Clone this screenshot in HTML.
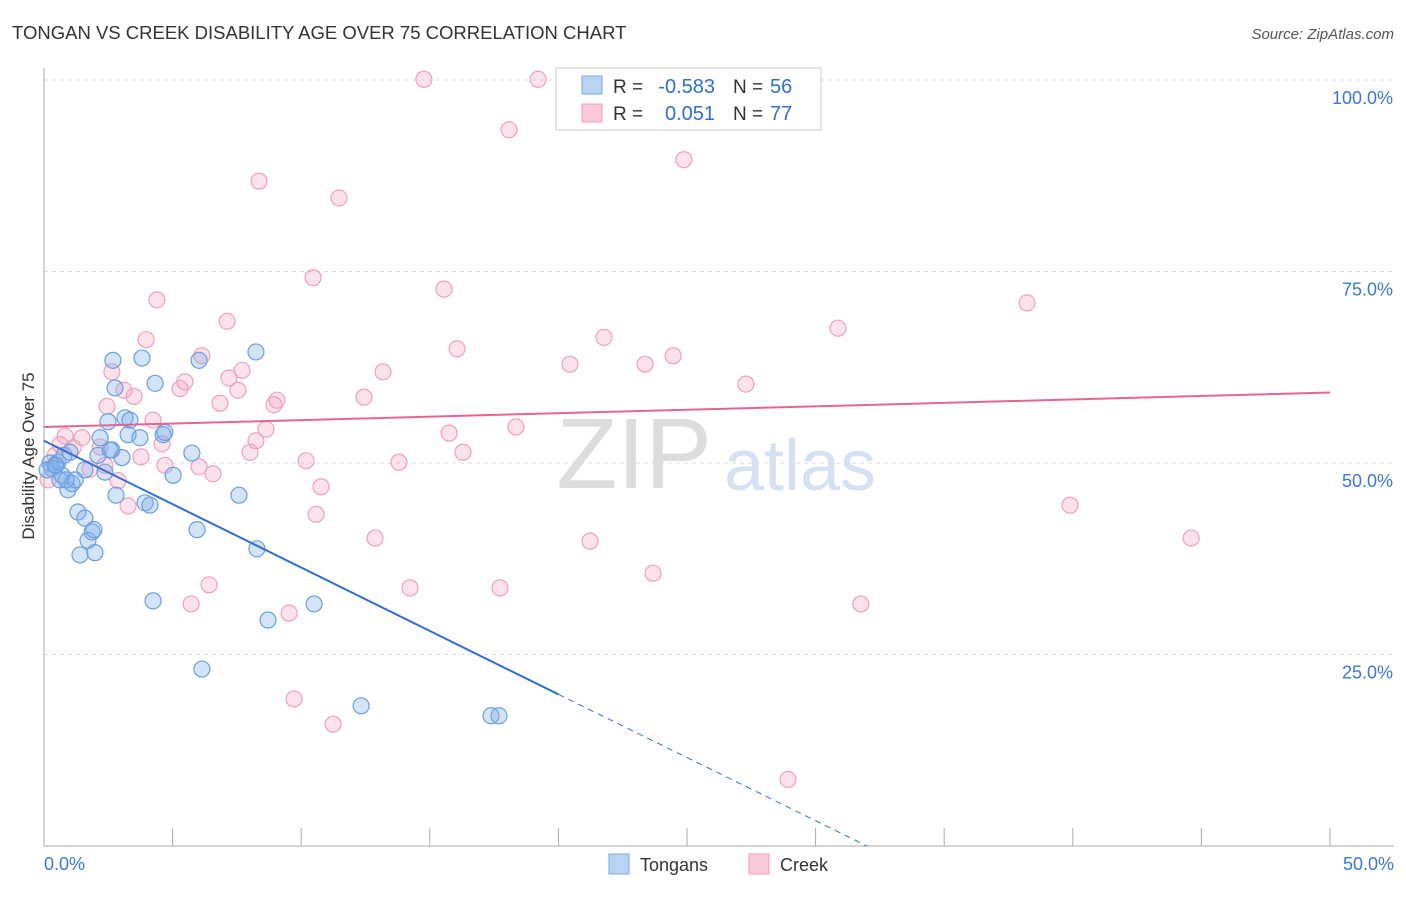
<!DOCTYPE html>
<html><head><meta charset="utf-8"><style>
body{margin:0;background:#fff;font-family:"Liberation Sans",sans-serif;}
svg text{font-family:"Liberation Sans",sans-serif;}
</style></head><body>
<svg id="c" width="1406" height="892">
<text x="12" y="39" font-size="18.5" fill="#333">TONGAN VS CREEK DISABILITY AGE OVER 75 CORRELATION CHART</text>
<text x="1394" y="39" font-size="15" fill="#555" font-style="italic" text-anchor="end">Source: ZipAtlas.com</text>
<text x="34" y="456" font-size="17" fill="#333" text-anchor="middle" transform="rotate(-90 34 456)">Disability Age Over 75</text>
<text x="634" y="488" font-size="100" fill="#ddd" text-anchor="middle" font-family="Liberation Serif">ZIP</text>
<text x="800" y="490" font-size="72" fill="#d6e2f4" text-anchor="middle">atlas</text>
<g id="grid"></g><g id="pts"></g><g id="lines"></g>
<g>
<rect x="556" y="68" width="265" height="62" fill="#fff" stroke="#ccc"/>
<rect x="582" y="76" width="20" height="18" fill="#b9d3f5" stroke="#7aa8e6"/>
<rect x="582" y="104" width="20" height="18" fill="#fbc9d8" stroke="#f09ab5"/>
<text x="613" y="93" font-size="19" fill="#333">R =</text>
<text x="715" y="93" font-size="20" fill="#2f6fd6" text-anchor="end">-0.583</text>
<text x="733" y="93" font-size="19" fill="#333">N =</text>
<text x="770" y="93" font-size="20" fill="#2f6fd6">56</text>
<text x="613" y="120" font-size="19" fill="#333">R =</text>
<text x="715" y="120" font-size="20" fill="#2f6fd6" text-anchor="end">0.051</text>
<text x="733" y="120" font-size="19" fill="#333">N =</text>
<text x="770" y="120" font-size="20" fill="#2f6fd6">77</text>
</g>
<g>
<rect x="609" y="854" width="20" height="20" fill="#b9d3f5" stroke="#7aa8e6"/>
<text x="640" y="871" font-size="18" fill="#333">Tongans</text>
<rect x="749" y="854" width="20" height="20" fill="#fbc9d8" stroke="#f09ab5"/>
<text x="780" y="871" font-size="18" fill="#333">Creek</text>
</g>
</svg>
<script>
const blueX=[0.23,0.43,0.31,0.54,0.12,0.70,0.93,1.09,1.21,0.78,1.01,1.32,1.59,1.40,1.71,1.87,1.98,1.94,2.18,2.10,2.37,2.49,2.64,2.76,2.80,2.68,3.15,3.27,3.34,3.03,3.73,3.81,4.32,3.93,4.12,4.24,4.63,4.70,5.02,5.75,5.95,6.03,6.14,7.58,8.24,8.28,8.71,10.50,12.33,17.38,17.69,0.62,2.57,1.59,0.86,0.47];
const blueY=[50.0,49.7,49.3,50.1,49.1,48.4,46.5,47.3,47.8,51.0,51.4,43.6,42.8,38.0,39.9,41.0,38.3,41.3,53.3,51.0,48.8,55.4,51.7,59.8,45.8,63.4,55.9,53.7,55.6,50.7,53.3,63.7,60.4,44.8,44.5,32.0,53.7,54.0,48.4,51.3,41.3,63.4,23.1,45.8,64.5,38.8,29.5,31.6,18.3,17.0,17.0,47.8,51.7,49.1,47.8,49.7];
const pinkX=[14.77,19.21,22.94,18.08,24.88,8.36,11.47,10.46,4.39,15.55,7.12,3.97,6.14,7.70,7.19,5.48,5.29,7.54,2.64,3.11,3.50,2.45,4.24,6.84,9.06,8.94,12.44,13.18,16.06,20.45,21.77,23.37,24.46,27.29,30.87,38.22,39.89,44.60,31.76,28.93,23.68,21.23,17.73,14.23,12.87,13.80,16.29,18.35,15.75,10.19,10.77,10.58,8.63,8.24,8.01,6.57,6.03,4.70,4.59,3.77,3.27,2.88,2.37,2.18,1.79,1.48,1.13,0.82,0.62,0.43,0.16,6.42,5.72,9.53,9.72,11.24];
const pinkY=[100.1,100.1,100.1,93.5,89.6,86.8,84.6,74.2,71.3,72.7,68.5,66.1,64.0,62.1,61.1,60.6,59.7,59.5,61.9,59.5,58.7,57.4,55.6,57.8,58.2,57.6,58.6,61.9,64.9,62.9,66.4,62.9,64.0,60.3,67.6,70.9,44.5,40.2,31.6,8.7,35.6,39.8,33.7,33.7,40.2,50.1,51.4,54.7,53.9,50.3,46.9,43.3,54.4,52.9,51.4,48.6,49.5,49.7,52.5,50.8,44.4,47.7,49.7,52.1,49.2,53.3,52.0,53.5,52.4,51.0,47.8,34.1,31.6,30.4,19.2,15.9];
const yTicks=[25,50,75,100];
const xTickLabels=["0.0%","50.0%"];
const blueTrend=[0,52.9,20,19.8,32,0];
const pinkTrend=[0,54.7,50,59.2];
const ns="http://www.w3.org/2000/svg";
const X=v=>44+v*25.72, Y=v=>846-v*7.66;
function mk(t,a,p){const e=document.createElementNS(ns,t);for(const k in a)e.setAttribute(k,a[k]);p.appendChild(e);return e;}
const grid=document.getElementById('grid');
for(const t of yTicks){
 const g=mk('line',{x1:44,x2:1394,y1:Y(t),y2:Y(t),stroke:'#ddd','stroke-dasharray':'4,4'},grid);
 
 
 const l=mk('text',{x:1393,y:Y(t)+24,'font-size':18,fill:'#3b78d8','text-anchor':'end'},grid);l.textContent=t.toFixed(1)+'%';
 
 
}
mk('line',{x1:44,x2:44,y1:68,y2:846,stroke:'#aaa'},grid);
mk('line',{x1:44,x2:1394,y1:846,y2:846,stroke:'#aaa'},grid);
for(let i=0;i<=10;i++){mk('line',{x1:X(i*5),x2:X(i*5),y1:828,y2:846,stroke:'#aaa'},grid);}
const xl0=mk('text',{x:44,y:870,'font-size':18,fill:'#3b78d8'},grid);xl0.textContent=xTickLabels[0];


const xl1=mk('text',{x:1394,y:870,'font-size':18,fill:'#3b78d8','text-anchor':'end'},grid);xl1.textContent=xTickLabels[1];


const pts=document.getElementById('pts');
pinkX.forEach((v,i)=>{const c=mk('circle',{cx:X(v),cy:Y(pinkY[i]),r:8,fill:'rgba(246,160,188,0.3)',stroke:'#f0a0b8','stroke-width':1.2},pts);
 
 });
blueX.forEach((v,i)=>{const c=mk('circle',{cx:X(v),cy:Y(blueY[i]),r:8,fill:'rgba(130,175,235,0.35)',stroke:'#6a9fe0','stroke-width':1.2},pts);
 
 });
const ln=document.getElementById('lines');
const b1=mk('line',{x1:X(blueTrend[0]),y1:Y(blueTrend[1]),x2:X(blueTrend[2]),y2:Y(blueTrend[3]),stroke:'#2f6fd6','stroke-width':2},ln);


const b2=mk('line',{x1:X(blueTrend[2]),y1:Y(blueTrend[3]),x2:X(blueTrend[4]),y2:Y(blueTrend[5]),stroke:'#2f6fd6','stroke-width':1,'stroke-dasharray':'6,5'},ln);


const p1=mk('line',{x1:X(pinkTrend[0]),y1:Y(pinkTrend[1]),x2:X(pinkTrend[2]),y2:Y(pinkTrend[3]),stroke:'#e8648f','stroke-width':2},ln);


</script>
</body></html>
